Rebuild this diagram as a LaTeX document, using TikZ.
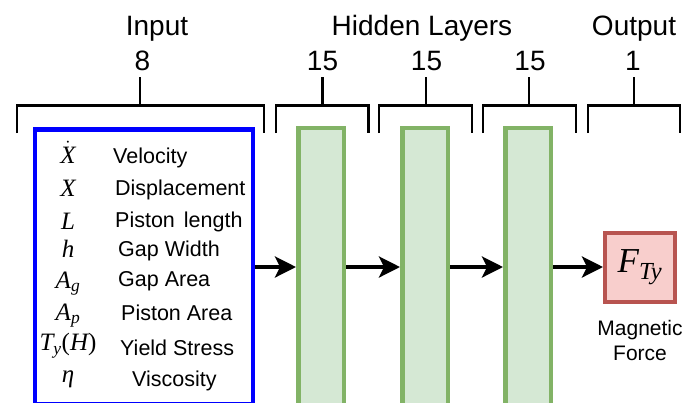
\documentclass[tikz,border=0pt]{standalone}
\usepackage{amsmath}
\usepackage{fontspec}
\setmainfont{Liberation Sans}
\newfontfamily\symfont{Liberation Serif}
\usetikzlibrary{arrows.meta}

% italic serif letters for the symbols
\newcommand\tv[1]{\text{\symfont\itshape #1}}
\newcommand\tu[1]{\text{\symfont #1}}

\definecolor{inblue}{HTML}{0000FF}
\definecolor{hidfill}{HTML}{D5E8D4}
\definecolor{hidline}{HTML}{82B366}
\definecolor{outfill}{HTML}{F8CECC}
\definecolor{outstroke}{HTML}{B85450}

\begin{document}
\begin{tikzpicture}[x=1pt,y=-1pt,
  head/.style={font=\fontsize{28}{30}\selectfont, anchor=base, inner sep=0pt},
  bracket/.style={line width=2.5pt},
  param/.style={font=\fontsize{21.5}{24}\selectfont, anchor=base west, inner sep=0pt},
  sym/.style={font=\fontsize{25}{27}\selectfont, anchor=base, inner sep=0pt},
  caption/.style={font=\fontsize{21}{24}\selectfont, anchor=base, inner sep=0pt},
  inbox/.style={draw=inblue, line width=4.5pt, minimum width=218pt, minimum height=275pt, inner sep=0pt},
  layer/.style={draw=hidline, fill=hidfill, line width=4.5pt, minimum width=45.5pt, minimum height=278pt, inner sep=0pt},
  outbox/.style={draw=outstroke, fill=outfill, line width=4pt, minimum width=70pt, minimum height=69pt, inner sep=0pt, font=\fontsize{35}{37}\selectfont},
  arr/.style={line width=3.5pt, -{Stealth[length=21pt,width=21pt,inset=5pt]}}
]
\useasboundingbox (0,0) rectangle (687,402);

% group headings and sizes
\node[head] (tin)  at (157,35) {Input};
\node[head] (nin)  at (142.5,70) {8};
\node[head] (thid) at (422,35) {Hidden Layers};
\node[head] (n1)   at (322.5,70) {15};
\node[head] (n2)   at (426.5,70) {15};
\node[head] (n3)   at (530,70) {15};
\node[head] (tout) at (634,35) {Output};
\node[head] (nout) at (633,70) {1};

% brackets above each layer
\foreach \l/\m/\r in {17/140/264, 276/322.5/368.5, 379/426/472, 483/529/576, 588/634/680}
  \draw[bracket] (\l,133) -- (\l,105.5) -- (\r,105.5) -- (\r,133)
                 (\m,105.5) -- (\m,77);

% layers
\node[inbox] (inp) at (144,267) {};
\node[layer] (h1) at (321,267) {};
\node[layer] (h2) at (425,267) {};
\node[layer] (h3) at (528,267) {};
\node[outbox] (out) at (640,267) {$\tv{F}_{\tv{Ty}}$};

% input parameters
\node[sym] (s1) at (68,163.5) {$\dot{\tv{X}}$};
\node[sym] (s2) at (68,196.5) {$\tv{X}$};
\node[sym] (s3) at (68,229.5) {$\tv{L}$};
\node[sym] (s4) at (68,257) {$\tv{h}$};
\node[sym] (s5) at (68,288) {$\tv{A}_{\tv{g}}$};
\node[sym] (s6) at (68,320) {$\tv{A}_{\tv{p}}$};
\node[sym] (s7) at (68,350.5) {$\tv{T}_{\tv{y}}\tu{(}\tv{H}\tu{)}$};
\node[sym] (s8) at (68,382) {$\tv{η}$};

\node[param] (p1) at (113,163) {Velocity};
\node[param] (p2) at (115,195.5) {Displacement};
\node[param] (p3) at (115,227.5) {Piston\hspace{9pt}length};
\node[param] (p4) at (118,256.5) {Gap Width};
\node[param] (p5) at (118,286.5) {Gap Area};
\node[param] (p6) at (121,320) {Piston Area};
\node[param] (p7) at (120,355) {Yield Stress};
\node[param] (p8) at (132,386.5) {Viscosity};

% output caption
\node[caption] (c1) at (640,335) {Magnetic};
\node[caption] (c2) at (640,360) {Force};

% connections
\draw[arr] (inp) -- (h1);
\draw[arr] (h1) -- (h2);
\draw[arr] (h2) -- (h3);
\draw[arr] (h3) -- (out);
\end{tikzpicture}
\end{document}
